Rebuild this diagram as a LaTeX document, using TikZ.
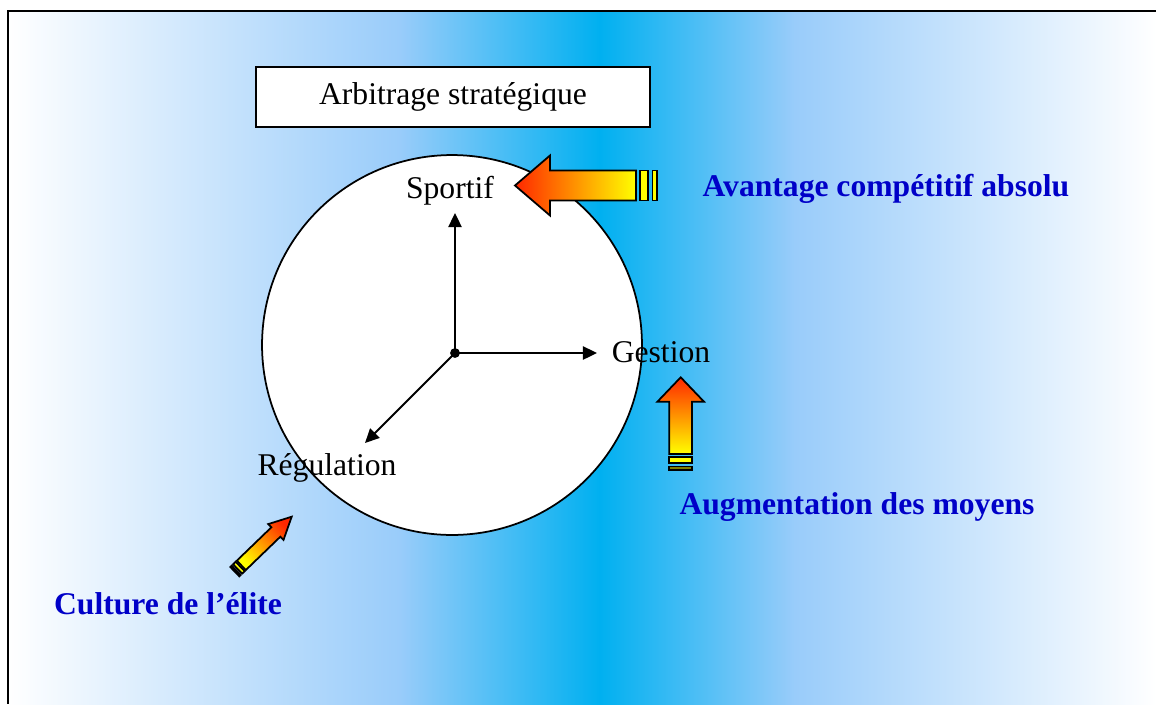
\documentclass[tikz,border=0pt]{standalone}
\usepackage{fontspec}
\setmainfont{Liberation Serif}
\usetikzlibrary{positioning,arrows.meta}
\definecolor{skycyan}{RGB}{0,176,240}
\definecolor{paleblue}{RGB}{153,204,250}
\definecolor{kwblue}{RGB}{0,0,200}
\definecolor{tipred}{RGB}{255,40,0}
\definecolor{tailyellow}{RGB}{255,255,0}
\definecolor{olivebar}{RGB}{128,128,0}
\tikzset{
  lbl/.style={font=\fontsize{18}{22}\selectfont, inner sep=1pt},
  kw/.style={font=\fontsize{18}{22}\selectfont\bfseries, text=kwblue, inner sep=1pt},
  title/.style={draw, line width=1.1pt, fill=white, font=\fontsize{18}{22}\selectfont, text height=1em, text depth=0.2em, minimum width=7.88cm, minimum height=1.2cm},
  axis/.style={-{Triangle[length=8pt,width=7.5pt]}, line width=1.1pt},
  fat/.style={draw, line width=1pt, line join=miter, top color=tipred, bottom color=tailyellow},
  bar/.style={draw, line width=1pt, fill=tailyellow},
}
% #1 tip, #2 angle, #3 head length, #4 head half width, #5 shaft half width, #6 shaft length, #7 last bar
\newcommand{\fatarrow}[7]{%
  \begin{scope}[shift={#1}, rotate=#2]
    \pgfmathsetmacro{\xa}{#3+#6}
    \pgfmathsetmacro{\xb}{\xa+0.25*#5}
    \pgfmathsetmacro{\xc}{\xb+0.55*#5}
    \pgfmathsetmacro{\xd}{\xc+0.3*#5}
    \pgfmathsetmacro{\xe}{\xd+0.3*#5}
    \pgfmathsetmacro{\shang}{90+#2}
    \draw[fat, shading angle=\shang] (0,0) -- (#3,-#4) -- (#3,-#5) -- (\xa,-#5) -- (\xa,#5) -- (#3,#5) -- (#3,#4) -- cycle;
    \draw[bar] (\xb,-#5) rectangle (\xc,#5);
    \draw[bar, fill=#7] (\xd,-#5) rectangle (\xe,#5);
  \end{scope}}

\begin{document}
\begin{tikzpicture}[x=0.02cm, y=-0.02cm]
  \useasboundingbox (0,0) rectangle (1156,704);
  % background
  \shade[left color=white, right color=paleblue] (8,11) rectangle (400,704);
  \shade[left color=paleblue, right color=skycyan] (399.5,11) rectangle (600,704);
  \shade[left color=skycyan, right color=paleblue] (599.5,11) rectangle (795,704);
  \shade[left color=paleblue, right color=white] (794.5,11) rectangle (1156,704);
  \draw[line width=1.5pt] (1156,11) -- (8,11) -- (8,704);

  \draw[line width=1pt, fill=white] (452,345) circle [radius=3.8cm];
  \node[title] (arb) at (453,97) {Arbitrage stratégique};

  % axes
  \coordinate (o) at (455,353);
  \coordinate (sp) at (455,213);
  \coordinate (ge) at (597,353);
  \coordinate (re) at (365,443);
  \draw[axis] (o) -- (sp);
  \draw[axis] (o) -- (ge);
  \draw[axis] (o) -- (re);
  \fill (o) circle [radius=2.8pt];
  \node[lbl] (sportif) at (450,191) {Sportif};
  \node[lbl] (gestion) at (661,352) {Gestion};
  \node[lbl] (regul) at (327,468) {Régulation};

  % block arrows
  \fatarrow{(515,185.5)}{0}{35}{30}{15}{86}{tailyellow}
  \fatarrow{(680.7,377.3)}{-90}{24.4}{23.3}{11.4}{52.3}{olivebar}
  \fatarrow{(291.7,516.7)}{-136}{22}{11}{6.5}{48}{olivebar}

  \node[kw] (avantage) at (886,189) {Avantage compétitif absolu};
  \node[kw] (moyens) at (857,507) {Augmentation des moyens};
  \node[kw] (culture) at (168,604) {Culture de l’élite};
\end{tikzpicture}
\end{document}
